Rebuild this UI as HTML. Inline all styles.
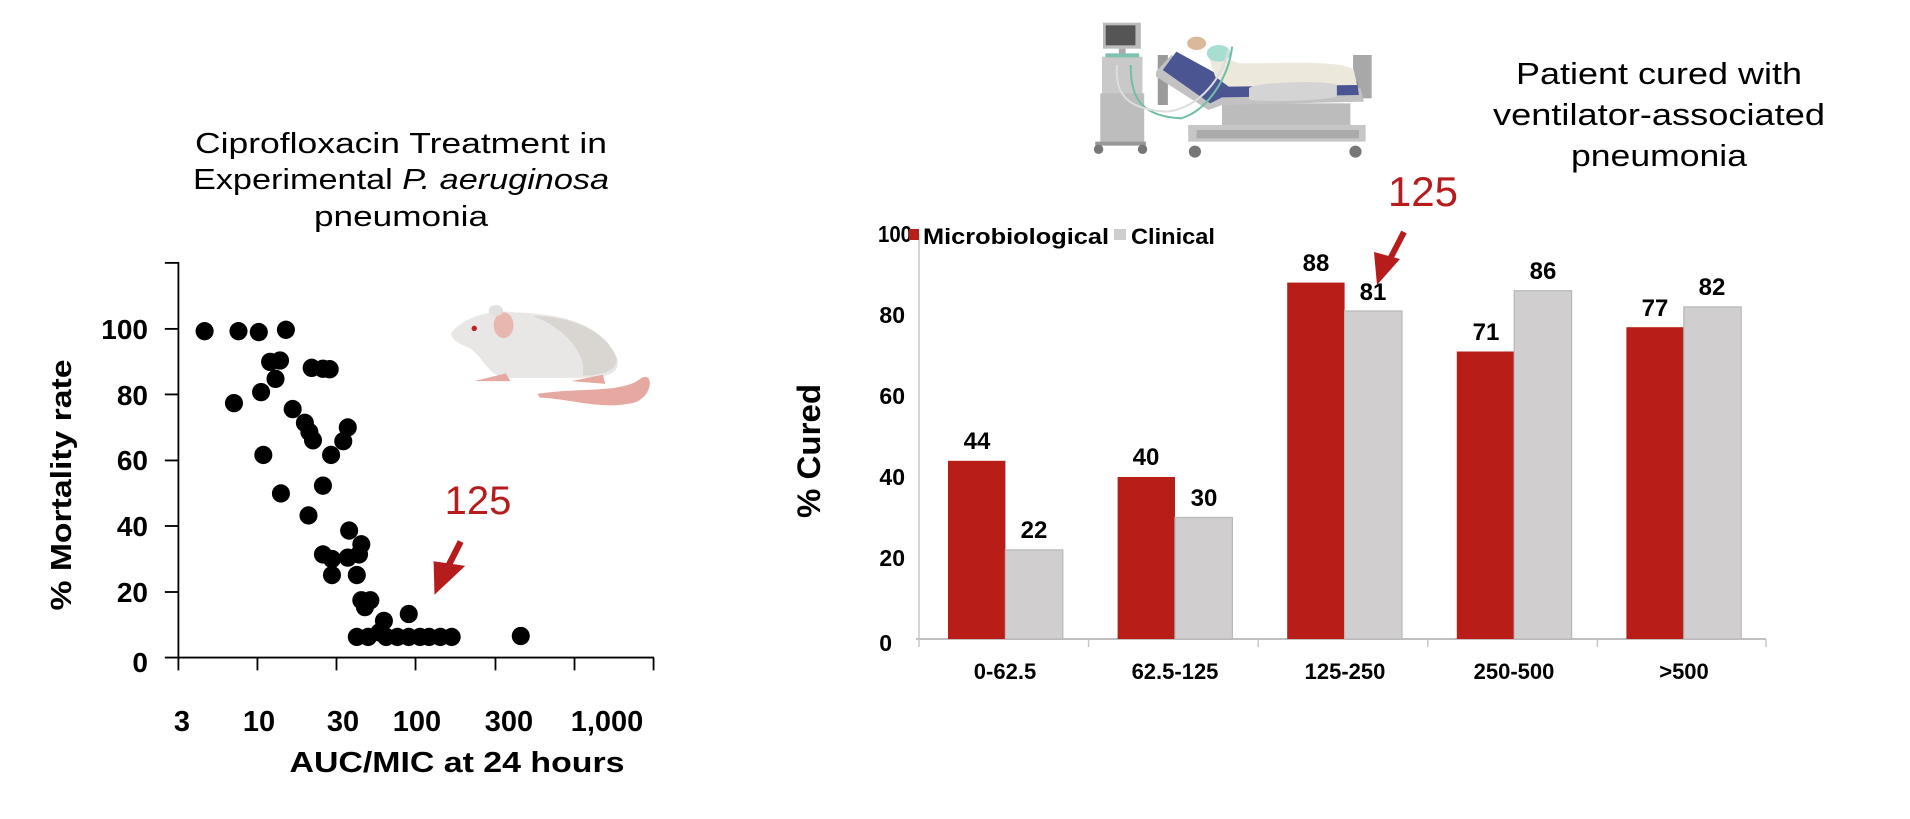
<!DOCTYPE html>
<html><head><meta charset="utf-8"><style>
html,body{margin:0;padding:0;background:#fff;overflow:hidden;}
svg{display:block;}
</style></head><body>
<svg width="1910" height="819" viewBox="0 0 1910 819" xmlns="http://www.w3.org/2000/svg">
<rect width="1910" height="819" fill="#fff"/>
<!-- LEFT TITLE -->
<g font-family="Liberation Sans, sans-serif" font-size="29" fill="#000" text-anchor="middle">
  <text x="401" y="153" textLength="412" lengthAdjust="spacingAndGlyphs">Ciprofloxacin Treatment in</text>
  <text x="401" y="189" textLength="416" lengthAdjust="spacingAndGlyphs">Experimental <tspan font-style="italic">P. aeruginosa</tspan></text>
  <text x="401" y="226" textLength="174" lengthAdjust="spacingAndGlyphs">pneumonia</text>
</g>
<!-- LEFT PANEL (zoom1 coords) -->
<g transform="translate(0,100.6) scale(0.45166,0.4584)">
  <g stroke="#000" stroke-width="4" fill="none">
    <line x1="395" y1="352" x2="395" y2="1217"/>
    <line x1="393" y1="1215" x2="1448" y2="1215"/>
    <line x1="365" y1="354" x2="395" y2="354"/>
    <line x1="365" y1="498" x2="395" y2="498"/>
    <line x1="365" y1="641" x2="395" y2="641"/>
    <line x1="365" y1="785" x2="395" y2="785"/>
    <line x1="365" y1="928" x2="395" y2="928"/>
    <line x1="365" y1="1072" x2="395" y2="1072"/>
    <line x1="365" y1="1215" x2="395" y2="1215"/>
    <line x1="395" y1="1215" x2="395" y2="1243"/>
    <line x1="570" y1="1215" x2="570" y2="1243"/>
    <line x1="745" y1="1215" x2="745" y2="1243"/>
    <line x1="920" y1="1215" x2="920" y2="1243"/>
    <line x1="1097" y1="1215" x2="1097" y2="1243"/>
    <line x1="1272" y1="1215" x2="1272" y2="1243"/>
    <line x1="1447" y1="1215" x2="1447" y2="1243"/>
  </g>
  <g fill="#000">
    <circle cx="453" cy="503" r="20"/><circle cx="528" cy="503" r="20"/><circle cx="573" cy="505" r="20"/><circle cx="633" cy="500" r="20"/>
    <circle cx="518" cy="660" r="20"/><circle cx="578" cy="636" r="20"/><circle cx="598" cy="570" r="20"/><circle cx="620" cy="567" r="20"/>
    <circle cx="610" cy="607" r="20"/><circle cx="583" cy="773" r="20"/><circle cx="622" cy="857" r="20"/><circle cx="648" cy="673" r="20"/>
    <circle cx="675" cy="703" r="20"/><circle cx="685" cy="723" r="20"/><circle cx="693" cy="741" r="20"/><circle cx="690" cy="583" r="20"/>
    <circle cx="715" cy="585" r="20"/><circle cx="730" cy="586" r="20"/><circle cx="733" cy="773" r="20"/><circle cx="715" cy="840" r="20"/>
    <circle cx="683" cy="905" r="20"/><circle cx="770" cy="713" r="20"/><circle cx="760" cy="743" r="20"/><circle cx="773" cy="938" r="20"/>
    <circle cx="715" cy="990" r="20"/><circle cx="735" cy="1000" r="20"/><circle cx="735" cy="1035" r="20"/><circle cx="770" cy="997" r="20"/>
    <circle cx="795" cy="990" r="20"/><circle cx="800" cy="968" r="20"/><circle cx="790" cy="1035" r="20"/><circle cx="800" cy="1090" r="20"/>
    <circle cx="820" cy="1090" r="20"/><circle cx="808" cy="1105" r="20"/><circle cx="850" cy="1135" r="20"/><circle cx="905" cy="1120" r="20"/>
    <circle cx="790" cy="1170" r="20"/><circle cx="815" cy="1170" r="20"/><circle cx="855" cy="1170" r="20"/><circle cx="880" cy="1170" r="20"/>
    <circle cx="905" cy="1170" r="20"/><circle cx="930" cy="1170" r="20"/><circle cx="950" cy="1170" r="20"/><circle cx="975" cy="1170" r="20"/>
    <circle cx="1000" cy="1170" r="20"/><circle cx="1153" cy="1168" r="20"/><circle cx="840" cy="1160" r="20"/>
  </g>
  <line x1="1020" y1="962" x2="985" y2="1030" stroke="#b71c1c" stroke-width="14"/>
  <polygon points="962,1078 960,1005 1030,1015" fill="#b71c1c"/>
  <!-- mouse -->
  <g>
    <path d="M1190,640 C1280,625 1380,640 1420,605 C1450,590 1445,650 1400,660 C1330,675 1260,650 1195,648 Z" fill="#e6a9a2"/>
    <path d="M1000,505 C1030,470 1090,455 1140,462 C1230,465 1330,480 1365,560 C1380,600 1330,605 1290,605 L1120,605 C1080,600 1070,560 1040,540 C1015,530 995,520 1000,505 Z" fill="#e9e7e5"/>
    <path d="M1180,470 C1260,470 1340,500 1365,560 C1370,590 1330,600 1290,600 C1300,560 1260,500 1180,470 Z" fill="#d9d6d2"/>
    <ellipse cx="1115" cy="490" rx="22" ry="28" fill="#e8b8b0"/>
    <ellipse cx="1098" cy="458" rx="16" ry="12" fill="#e3e1df"/>
    <circle cx="1050" cy="497" r="6" fill="#b22"/>
    <path d="M1050,612 L1120,595 L1130,612 Z M1265,612 L1335,598 L1340,618 Z" fill="#e6a9a2"/>
  </g>
</g>
<g font-family="Liberation Sans, sans-serif" font-weight="bold" font-size="28" fill="#000" text-anchor="end">
  <text x="148" y="339">100</text>
  <text x="148" y="405">80</text>
  <text x="148" y="470">60</text>
  <text x="148" y="536">40</text>
  <text x="148" y="602">20</text>
  <text x="148" y="672">0</text>
</g>
<g font-family="Liberation Sans, sans-serif" font-weight="bold" font-size="29" fill="#000" text-anchor="middle">
  <text x="182" y="731">3</text>
  <text x="259" y="731">10</text>
  <text x="343" y="731">30</text>
  <text x="417" y="731">100</text>
  <text x="509" y="731">300</text>
  <text x="607" y="731">1,000</text>
  <text x="457" y="772" font-size="29" textLength="335" lengthAdjust="spacingAndGlyphs">AUC/MIC at 24 hours</text>
  <text transform="translate(71,485) rotate(-90)" font-size="29" textLength="251" lengthAdjust="spacingAndGlyphs">% Mortality rate</text>
</g>
<text x="478" y="514" font-family="Liberation Sans, sans-serif" font-size="40" fill="#b71c1c" text-anchor="middle">125</text>

<!-- RIGHT PANEL TITLE -->
<g font-family="Liberation Sans, sans-serif" font-size="31" fill="#000" text-anchor="middle">
  <text x="1659" y="84" textLength="286" lengthAdjust="spacingAndGlyphs">Patient cured with</text>
  <text x="1659" y="125" textLength="332" lengthAdjust="spacingAndGlyphs">ventilator-associated</text>
  <text x="1659" y="166" textLength="176" lengthAdjust="spacingAndGlyphs">pneumonia</text>
</g>
<text x="1423" y="206" font-family="Liberation Sans, sans-serif" font-size="42" fill="#b71c1c" text-anchor="middle">125</text>
<line x1="1404" y1="232" x2="1388" y2="263" stroke="#b71c1c" stroke-width="6"/>
<polygon points="1377,285 1374,252 1400,259" fill="#b71c1c"/>

<!-- ventilator + bed -->
<g transform="translate(1080,10) scale(0.3380,0.3333)">
  <rect x="65" y="140" width="120" height="260" fill="#c9c9c9"/>
  <rect x="60" y="250" width="130" height="150" fill="#bdbdbd"/>
  <rect x="75" y="130" width="100" height="12" fill="#7ec3b0"/>
  <rect x="68" y="38" width="112" height="78" fill="#bbb"/>
  <rect x="76" y="46" width="88" height="60" fill="#555"/>
  <rect x="115" y="116" width="20" height="16" fill="#aaa"/>
  <rect x="45" y="395" width="150" height="12" fill="#999"/>
  <circle cx="55" cy="418" r="14" fill="#777"/><circle cx="185" cy="418" r="14" fill="#777"/>
  <rect x="230" y="135" width="30" height="150" fill="#9a9a9a"/>
  <rect x="808" y="135" width="55" height="130" fill="#a8a8a8"/>
  <rect x="420" y="280" width="380" height="90" fill="#bcbcbc"/>
  <rect x="320" y="345" width="525" height="50" fill="#c6c6c6"/>
  <rect x="345" y="360" width="480" height="25" fill="#aaa"/>
  <circle cx="340" cy="425" r="18" fill="#777"/><circle cx="815" cy="425" r="18" fill="#777"/>
  <polygon points="225,185 270,135 420,210 830,235 840,275 420,285 380,300 225,200" fill="#c2c2c2"/>
  <polygon points="245,180 285,125 420,200 820,215 825,255 420,262 385,280" fill="#4a5592"/>
  <path d="M380,140 C420,150 440,145 470,160 C600,160 780,150 810,180 L820,225 L440,230 L400,200 Z" fill="#ede8dc"/>
  <ellipse cx="345" cy="100" rx="28" ry="20" fill="#d9b99a"/>
  <ellipse cx="410" cy="130" rx="35" ry="25" fill="#a8ddd2"/>
  <path d="M500,235 C510,215 740,210 760,225 L760,260 C700,275 540,275 500,270 Z" fill="#d4d4d4"/>
  <path d="M150,165 C150,250 170,320 300,325 C380,300 440,200 450,110" stroke="#6fbfa8" stroke-width="6" fill="none"/>
  <path d="M110,165 C100,260 150,300 260,305 C360,290 420,200 440,120" stroke="#ddd" stroke-width="6" fill="none"/>
</g>

<!-- BAR CHART (orig coords), zero=639, 4.05px/unit -->
<g>
  <line x1="919" y1="234" x2="919" y2="640" stroke="#c8c8c8" stroke-width="1.5"/>
  <line x1="916" y1="639" x2="1766" y2="639" stroke="#c0c0c0" stroke-width="2"/>
  <g stroke="#c8c8c8" stroke-width="1.5">
    <line x1="919" y1="639" x2="919" y2="647"/><line x1="1088.6" y1="639" x2="1088.6" y2="647"/>
    <line x1="1258.2" y1="639" x2="1258.2" y2="647"/><line x1="1427.8" y1="639" x2="1427.8" y2="647"/>
    <line x1="1597.4" y1="639" x2="1597.4" y2="647"/><line x1="1766" y1="639" x2="1766" y2="647"/>
  </g>
  <g font-family="Liberation Sans, sans-serif" font-weight="bold" font-size="23" fill="#000" text-anchor="end">
    <text x="912" y="242" textLength="34" lengthAdjust="spacingAndGlyphs">100</text>
    <text x="905" y="323">80</text><text x="905" y="404">60</text>
    <text x="905" y="485">40</text><text x="905" y="566">20</text><text x="892" y="651">0</text>
  </g>
  <g fill="#b81d17">
    <rect x="948" y="460.8" width="57.4" height="178.2"/>
    <rect x="1117.6" y="477" width="57.4" height="162"/>
    <rect x="1287.2" y="282.6" width="57.4" height="356.4"/>
    <rect x="1456.8" y="351.5" width="57.4" height="287.5"/>
    <rect x="1626.4" y="327.2" width="57.4" height="311.8"/>
  </g>
  <g fill="#d0cece" stroke="#b8b8b8" stroke-width="1.2">
    <rect x="1005.4" y="549.9" width="57.4" height="89.1"/>
    <rect x="1175" y="517.5" width="57.4" height="121.5"/>
    <rect x="1344.6" y="311" width="57.4" height="328"/>
    <rect x="1514.2" y="290.7" width="57.4" height="348.3"/>
    <rect x="1683.8" y="306.9" width="57.4" height="332.1"/>
  </g>
  <g font-family="Liberation Sans, sans-serif" font-weight="bold" font-size="24" fill="#000" text-anchor="middle">
    <text x="977" y="449">44</text><text x="1034" y="538">22</text>
    <text x="1146" y="465">40</text><text x="1204" y="506">30</text>
    <text x="1316" y="271">88</text><text x="1373" y="300">81</text>
    <text x="1486" y="340">71</text><text x="1543" y="279">86</text>
    <text x="1655" y="316">77</text><text x="1712" y="295">82</text>
  </g>
  <g font-family="Liberation Sans, sans-serif" font-weight="bold" font-size="22" fill="#000" text-anchor="middle">
    <text x="1005" y="679">0-62.5</text><text x="1175" y="679">62.5-125</text>
    <text x="1345" y="679">125-250</text><text x="1514" y="679">250-500</text>
    <text x="1684" y="679">&gt;500</text>
  </g>
  <rect x="909" y="229" width="10" height="11" fill="#b81d17"/>
  <rect x="1114" y="229" width="12" height="11" fill="#cfcdcd"/>
  <g font-family="Liberation Sans, sans-serif" font-weight="bold" font-size="22" fill="#000">
    <text x="923" y="244" textLength="186" lengthAdjust="spacingAndGlyphs">Microbiological</text>
    <text x="1131" y="244" textLength="84" lengthAdjust="spacingAndGlyphs">Clinical</text>
  </g>
  <text transform="translate(820,451) rotate(-90)" font-family="Liberation Sans, sans-serif" font-weight="bold" font-size="32" fill="#000" text-anchor="middle" textLength="134" lengthAdjust="spacingAndGlyphs">% Cured</text>
</g>
</svg>
</body></html>
